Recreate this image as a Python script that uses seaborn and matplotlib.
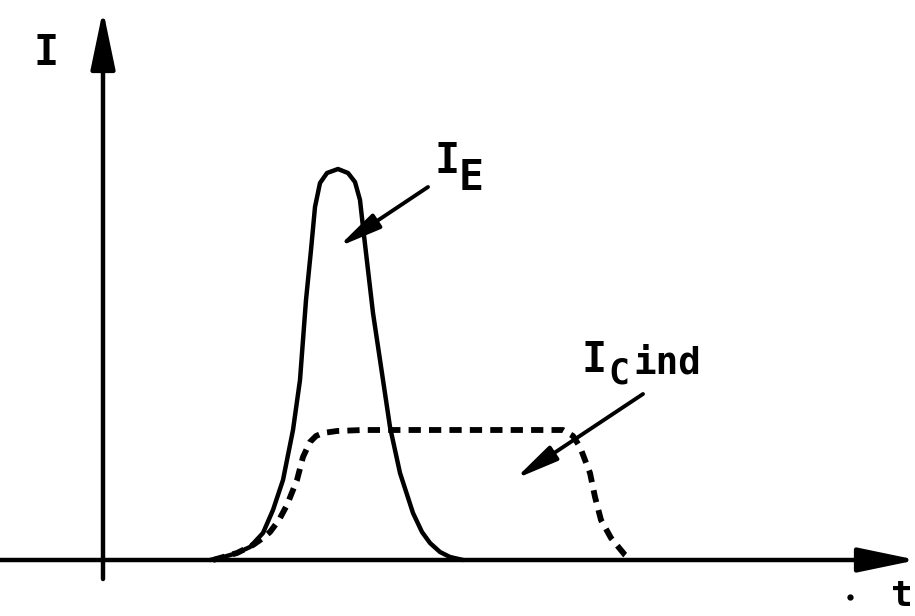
import numpy as np
import pandas as pd
import matplotlib
matplotlib.use("Agg")
import matplotlib.pyplot as plt
import seaborn as sns

# Emitter current pulse I_E (time t, current I, arbitrary units)
t_emitter = [1.07, 1.17, 1.34, 1.47, 1.60, 1.70, 1.80, 1.90, 1.97, 2.03, 2.08,
             2.12, 2.17, 2.24, 2.35, 2.45, 2.52, 2.57, 2.60, 2.65, 2.70, 2.80,
             2.87, 2.97, 3.10, 3.19, 3.27, 3.37, 3.47, 3.60]
i_emitter = [0.00, 0.02, 0.07, 0.13, 0.27, 0.50, 0.80, 1.30, 1.80, 2.60, 3.10,
             3.53, 3.77, 3.87, 3.91, 3.87, 3.78, 3.60, 3.33, 2.90, 2.47, 1.80,
             1.33, 0.87, 0.47, 0.28, 0.17, 0.08, 0.03, 0.00]

# Induced collector current I_C ind
t_collector = [1.10, 1.34, 1.50, 1.60, 1.67, 1.76, 1.84, 1.94, 2.00, 2.07, 2.13,
               2.20, 2.34, 2.60, 3.00, 3.50, 4.00, 4.60, 4.70, 4.77, 4.82, 4.87,
               4.92, 4.98, 5.08, 5.22, 5.28]
i_collector = [0.00, 0.07, 0.15, 0.22, 0.28, 0.40, 0.55, 0.80, 1.03, 1.18, 1.24,
               1.27, 1.29, 1.30, 1.30, 1.30, 1.30, 1.30, 1.24, 1.13, 1.00, 0.87,
               0.63, 0.40, 0.22, 0.05, 0.00]

axis_label_y = "I"
axis_label_x = "t"
label_main = "I"
label_emitter_sub = "E"
label_collector_sub = "C"
label_collector_suffix = "ind"

sns.set_style("white")
plt.rcParams["font.family"] = ["DejaVu Sans Mono", "DejaVu Sans"]

fig = plt.figure(figsize=(9.15, 6.16), dpi=100)
ax = fig.add_axes([0, 0, 1, 1])
ax.set_xlim(-1.03, 8.12)
ax.set_ylim(-0.56, 5.60)
ax.set_axis_off()

df_e = pd.DataFrame({"t": t_emitter, "I": i_emitter})
df_c = pd.DataFrame({"t": t_collector, "I": i_collector})

sns.lineplot(data=df_e, x="t", y="I", sort=False, color="black", lw=3.2,
             solid_joinstyle="round", solid_capstyle="round", ax=ax)
sns.lineplot(data=df_c, x="t", y="I", sort=False, color="black", lw=4.2,
             linestyle=(0, (2.1, 1.4)), ax=ax)

# Coordinate axes with arrowheads
axis_arrow = dict(arrowstyle="-|>,head_length=36,head_width=7.5", lw=3.2,
                  color="black", mutation_scale=1, shrinkA=0, shrinkB=0)
ax.annotate("", xy=(0, 5.50), xytext=(0, -0.19), arrowprops=axis_arrow,
            annotation_clip=False)
ax.annotate("", xy=(8.14, 0), xytext=(-1.05, 0), arrowprops=axis_arrow,
            annotation_clip=False)

# Pointer arrows to the curves
ptr = dict(arrowstyle="-|>,head_length=26,head_width=5", lw=2.8,
           color="black", mutation_scale=1, shrinkA=0, shrinkB=0)
ax.annotate("", xy=(2.35, 3.13), xytext=(3.25, 3.73), arrowprops=ptr)
ax.annotate("", xy=(4.12, 0.81), xytext=(5.40, 1.66), arrowprops=ptr)

txt = dict(ha="center", va="baseline", color="black", fontweight="bold")
ax.text(-0.575, 4.95, axis_label_y, fontsize=30, **txt)
ax.text(7.99, -0.535, axis_label_x, fontsize=26, ha="center", va="bottom",
        color="black", fontweight="bold")
ax.plot([7.47], [-0.37], "o", color="black", ms=3.5)

ax.text(3.44, 3.87, label_main, fontsize=30, **txt)
ax.text(3.685, 3.70, label_emitter_sub, fontsize=30, **txt)

ax.text(4.91, 1.88, label_main, fontsize=30, **txt)
ax.text(5.16, 1.77, label_collector_sub, fontsize=25, **txt)
ax.text(5.645, 1.87, label_collector_suffix, fontsize=27, **txt)

fig.savefig("out.png", dpi=100, facecolor="white")
